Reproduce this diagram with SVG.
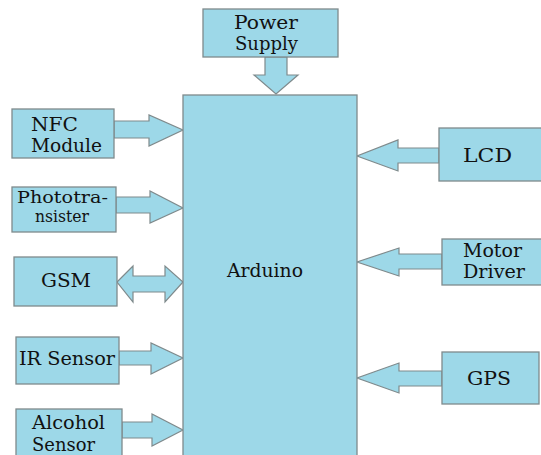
<svg xmlns="http://www.w3.org/2000/svg" width="541" height="455" viewBox="0 0 541 455">
<style>
.b{fill:#9dd8e8;stroke:#7f8a8c;stroke-width:1.3}
.a{fill:#9dd8e8;stroke:#7f8a8c;stroke-width:1.2}
.t{font-size:18px;fill:#111}
</style>
<rect width="541" height="455" fill="#fff"/>
<g id="connectors">
<polygon class="a" points="265,57 287,57 287,75 298,75 276,94 254,75 265,75"/>
<polygon class="a" points="114,121 149,121 149,115 183,130 149,146 149,138 114,138"/>
<polygon class="a" points="116,197 150,197 150,191 183,208 150,223 150,213 116,213"/>
<polygon class="a" points="117,282 133,266 133,276 165,276 165,266 183,282 165,302 165,292 133,292 133,302"/>
<polygon class="a" points="119,351 151,351 151,343 183,358 151,374 151,365 119,365"/>
<polygon class="a" points="122,422 152,422 152,414 183,430 152,446 152,438 122,438"/>
<polygon class="a" points="439,148 398,148 398,140 357,156 398,171 398,163 439,163"/>
<polygon class="a" points="442,254 399,254 399,248 357,262 399,276 399,269 442,269"/>
<polygon class="a" points="442,371 399,371 399,363 357,378 399,393 399,386 442,386"/>
</g>
<g class="t" font-family="DejaVu Serif, Liberation Serif, serif">
<g id="arduino"><rect class="b" x="183" y="95" width="174" height="370"/><text x="227" y="277" textLength="76" lengthAdjust="spacingAndGlyphs">Arduino</text></g>
<g id="power"><rect class="b" x="203" y="9" width="135" height="48"/><text x="234" y="29" textLength="64" lengthAdjust="spacingAndGlyphs">Power</text><text x="235" y="50" textLength="63" lengthAdjust="spacingAndGlyphs">Supply</text></g>
<g id="nfc"><rect class="b" x="12" y="109" width="102" height="49"/><text x="31" y="131" textLength="47" lengthAdjust="spacingAndGlyphs">NFC</text><text x="31" y="152" textLength="71" lengthAdjust="spacingAndGlyphs">Module</text></g>
<g id="photo"><rect class="b" x="12" y="187" width="104" height="45"/><text x="17" y="203" font-size="17" textLength="91" lengthAdjust="spacingAndGlyphs">Phototra-</text><text x="35" y="222" font-size="17" textLength="54" lengthAdjust="spacingAndGlyphs">nsister</text></g>
<g id="gsm"><rect class="b" x="14" y="257" width="103" height="49"/><text x="41" y="287" textLength="50" lengthAdjust="spacingAndGlyphs">GSM</text></g>
<g id="ir"><rect class="b" x="16" y="337" width="103" height="47"/><text x="19" y="365" textLength="96" lengthAdjust="spacingAndGlyphs">IR Sensor</text></g>
<g id="alcohol"><rect class="b" x="16" y="409" width="106" height="60"/><text x="32" y="429" textLength="73" lengthAdjust="spacingAndGlyphs">Alcohol</text><text x="32" y="451" textLength="63" lengthAdjust="spacingAndGlyphs">Sensor</text></g>
<g id="lcd"><rect class="b" x="439" y="128" width="110" height="53"/><text x="463" y="162" textLength="49" lengthAdjust="spacingAndGlyphs">LCD</text></g>
<g id="motor"><rect class="b" x="442" y="239" width="110" height="46"/><text x="463" y="257" textLength="59" lengthAdjust="spacingAndGlyphs">Motor</text><text x="463" y="278" textLength="62" lengthAdjust="spacingAndGlyphs">Driver</text></g>
<g id="gps"><rect class="b" x="442" y="352" width="97" height="52"/><text x="467" y="385" textLength="44" lengthAdjust="spacingAndGlyphs">GPS</text></g>
</g>
</svg>
